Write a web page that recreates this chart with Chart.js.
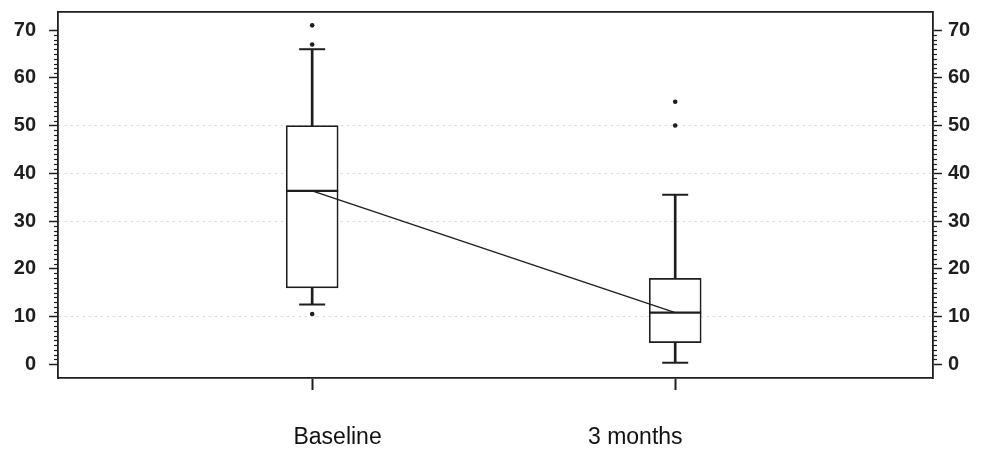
<!DOCTYPE html>
<html><head><meta charset="utf-8">
<script src="https://cdn.jsdelivr.net/npm/chart.js@4"></script>
<style>html,body{margin:0;padding:0;background:#fff}#wrap{width:982px;height:453px;position:relative}</style>
</head><body><div id="wrap"><canvas id="c"></canvas></div>
<script>
// ---- data ----
const categories = ['Baseline', '3 months'];
const whiskerLow = [12.5, 0.3];
const q1 = [16, 4.5];
const median = [36.3, 10.8];
const q3 = [50, 18];
const whiskerHigh = [66, 35.5];
const outliers = [[71, 67, 10.5], [55, 50]];
const yTickValues = [0, 10, 20, 30, 40, 50, 60, 70];
const categoryLabelAnchors = [0.07, 0.89];

const INK = '#1e1e1e';
const FONT = 'Liberation Sans, Arial, sans-serif';

const pts = arr => arr.map((v, i) => ({x: i, y: v}));
const outlierPts = [];
outliers.forEach((list, i) => list.forEach(v => outlierPts.push({x: i, y: v})));

const noPad = s => { s.paddingTop = 0; s.paddingBottom = 0; s.paddingLeft = 0; s.paddingRight = 0; };

const minorTicks = {
  id: 'minorTicks',
  afterDraw(chart) {
    const ctx = chart.ctx, a = chart.chartArea;
    ctx.save();
    ctx.strokeStyle = INK; ctx.lineWidth = 1.2;
    ['y', 'y2'].forEach(id => {
      const s = chart.scales[id];
      const left = id === 'y';
      const x0 = left ? a.left : a.right;
      for (let v = yTickValues[0] + 1; v < yTickValues[yTickValues.length - 1]; v++) {
        if (v % 10 === 0) continue;
        const y = Math.round(s.getPixelForValue(v)) + 0.5;
        ctx.beginPath();
        ctx.moveTo(x0, y);
        ctx.lineTo(left ? x0 - 4 : x0 + 4, y);
        ctx.stroke();
      }
    });
    ctx.restore();
  }
};

const faint = ctx => ([10, 30, 40, 50].includes(ctx.tick && ctx.tick.value) ? '#d6d6d6' : 'rgba(0,0,0,0)');

const yCommon = {
  type: 'linear', min: -2.9, max: 73.8,
  afterBuildTicks: ax => { ax.ticks = yTickValues.map(v => ({value: v})); },
  afterFit: noPad
};
const yFont = {family: FONT, size: 20, weight: 'bold'};

new Chart(document.getElementById('c'), {
  type: 'scatter',
  data: {
    datasets: [
      {type: 'line', data: pts(median), borderColor: INK, borderWidth: 1.4, pointRadius: 0, fill: false, order: 0},
      {type: 'scatter', data: outlierPts, pointStyle: 'circle', pointRadius: 2.3, backgroundColor: INK, borderColor: INK, borderWidth: 0, order: 1},
      {type: 'scatter', data: pts(median), pointStyle: 'line', pointRadius: 26, borderColor: INK, borderWidth: 2.2, order: 2},
      {type: 'scatter', data: pts(whiskerLow).concat(pts(whiskerHigh)), pointStyle: 'line', pointRadius: 13, borderColor: INK, borderWidth: 2, order: 3},
      {type: 'bar', data: q1.map((v, i) => ({x: i, y: [v, q3[i]]})), barThickness: 52, grouped: false,
       backgroundColor: '#ffffff', borderColor: INK, borderWidth: 1.7, borderSkipped: false, order: 4},
      {type: 'bar', data: whiskerLow.map((v, i) => ({x: i, y: [v, whiskerHigh[i]]})), barThickness: 2, grouped: false,
       backgroundColor: INK, borderWidth: 0, order: 5}
    ]
  },
  options: {
    responsive: true, maintainAspectRatio: false, animation: false,
    layout: {autoPadding: false, padding: {left: 0.8, right: 5.8, top: 12, bottom: 1.2}},
    plugins: {legend: {display: false}, tooltip: {enabled: false}},
    scales: {
      x: {
        type: 'linear', position: 'bottom', min: -0.70, max: 1.71, offset: false, weight: 0,
        afterBuildTicks: ax => { ax.ticks = categories.map((c, i) => ({value: i})); },
        afterFit: noPad,
        ticks: {display: false},
        grid: {display: true, offset: false, drawOnChartArea: false, drawTicks: true, tickLength: 12, tickColor: INK, tickWidth: 2},
        border: {color: INK, width: 1.8}
      },
      x2: {
        type: 'linear', position: 'bottom', min: -0.70, max: 1.71, offset: false, weight: 1,
        afterBuildTicks: ax => { ax.ticks = categoryLabelAnchors.map(v => ({value: v})); },
        afterFit: noPad,
        ticks: {color: '#111', padding: 0, maxRotation: 0, font: {family: FONT, size: 23},
                callback: (v, i) => categories[i]},
        grid: {display: false, offset: false, drawTicks: true, tickLength: 34.2},
        border: {display: false}
      },
      xTop: {
        type: 'linear', position: 'top', min: 0, max: 1,
        afterFit: noPad,
        ticks: {display: false},
        grid: {display: false, drawTicks: false},
        border: {display: true, color: INK, width: 1.8}
      },
      y: Object.assign({}, yCommon, {
        position: 'left',
        ticks: {color: INK, font: yFont, padding: 13},
        grid: {drawOnChartArea: true, color: faint, lineWidth: 1, tickLength: 9, tickColor: INK, tickWidth: 1.5},
        border: {color: INK, width: 1.8, dash: [2, 4]}
      }),
      y2: Object.assign({}, yCommon, {
        position: 'right',
        ticks: {color: INK, font: yFont, padding: 6},
        grid: {drawOnChartArea: false, tickLength: 9, tickColor: INK, tickWidth: 1.5},
        border: {color: INK, width: 1.8}
      })
    }
  },
  plugins: [minorTicks]
});
</script>
</body></html>
